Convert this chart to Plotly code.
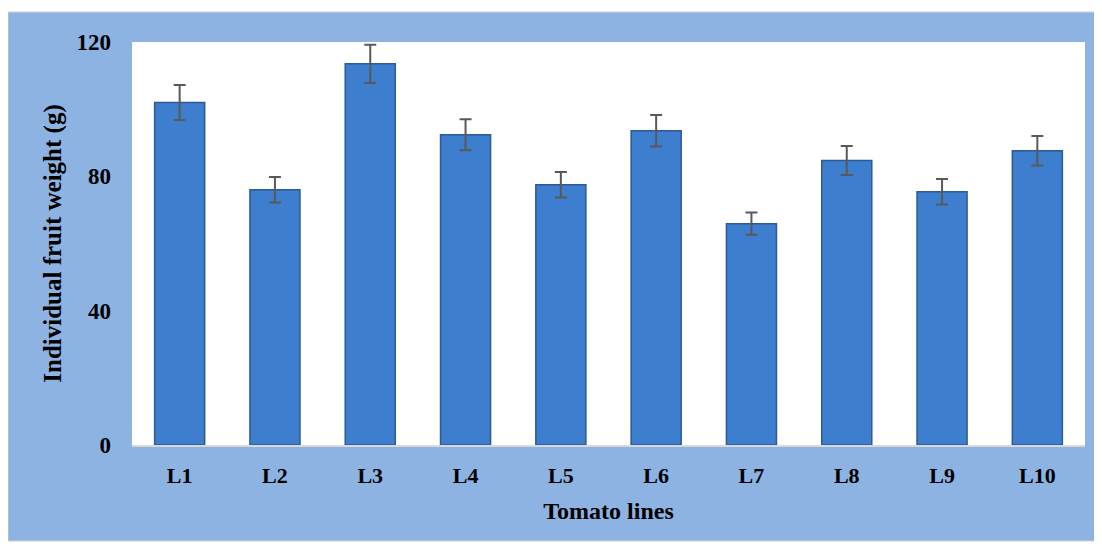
import plotly.graph_objects as go

lines = ["L1", "L2", "L3", "L4", "L5", "L6", "L7", "L8", "L9", "L10"]
weights = [102.0, 76.0, 113.5, 92.4, 77.5, 93.6, 65.9, 84.7, 75.4, 87.6]
errors = [5.2, 3.8, 5.7, 4.6, 3.8, 4.7, 3.3, 4.3, 3.8, 4.4]
y_ticks = [0, 40, 80, 120]

FONT = "Liberation Serif"
BLUE_BG = "#8DB3E2"

# the page body adds an 8px offset; work in figure coordinates
OFF = 8
FW, FH = 1102 - OFF, 547 - OFF
pl, pr, pt, pb = 132 - OFF, 1085 - OFF, 42 - OFF, 445 - OFF
W, H = pr - pl, pb - pt
def px_x(x): return (x - OFF - pl) / W
def px_y(y): return (pb - (y - OFF)) / H

fig = go.Figure()
fig.add_trace(go.Bar(
    x=lines, y=weights,
    marker=dict(color="#3D7ECF", line=dict(color="#2C5A94", width=1.5)),
    error_y=dict(type="data", array=errors, visible=True,
                 color="#595959", thickness=2, width=6),
    showlegend=False,
))

fig.add_shape(type="rect", xref="paper", yref="paper", layer="below",
              x0=px_x(8), x1=px_x(1097), y0=px_y(541), y1=px_y(12),
              fillcolor=BLUE_BG, line=dict(color="#D0D0D0", width=1))
fig.add_shape(type="rect", xref="paper", yref="paper", layer="below",
              x0=0, x1=1, y0=0, y1=1, fillcolor="white", line=dict(width=0))

fig.update_layout(
    width=FW, height=FH,
    margin=dict(l=pl, r=FW - pr, t=pt, b=FH - pb),
    paper_bgcolor="white", plot_bgcolor="white",
    bargap=0.475,
    font=dict(family=FONT, color="black", size=18),
    xaxis=dict(
        showgrid=False, showline=True, linecolor="#D9D9D9", linewidth=2,
        ticks="", ticklabelstandoff=10,
        tickfont=dict(family=FONT, size=22, color="black", weight="bold"),
        title=dict(text="<b>Tomato lines</b>", standoff=15,
                   font=dict(family=FONT, size=24, color="black")),
    ),
    yaxis=dict(
        range=[0, 120], tickvals=y_ticks, showgrid=False, zeroline=False,
        showline=False, ticks="", ticklabelstandoff=20,
        tickfont=dict(family=FONT, size=23, color="black", weight="bold"),
        title=dict(text="<b>Individual fruit weight (g)</b>", standoff=7,
                   font=dict(family=FONT, size=25, color="black")),
    ),
)

fig.write_html("out.html")
